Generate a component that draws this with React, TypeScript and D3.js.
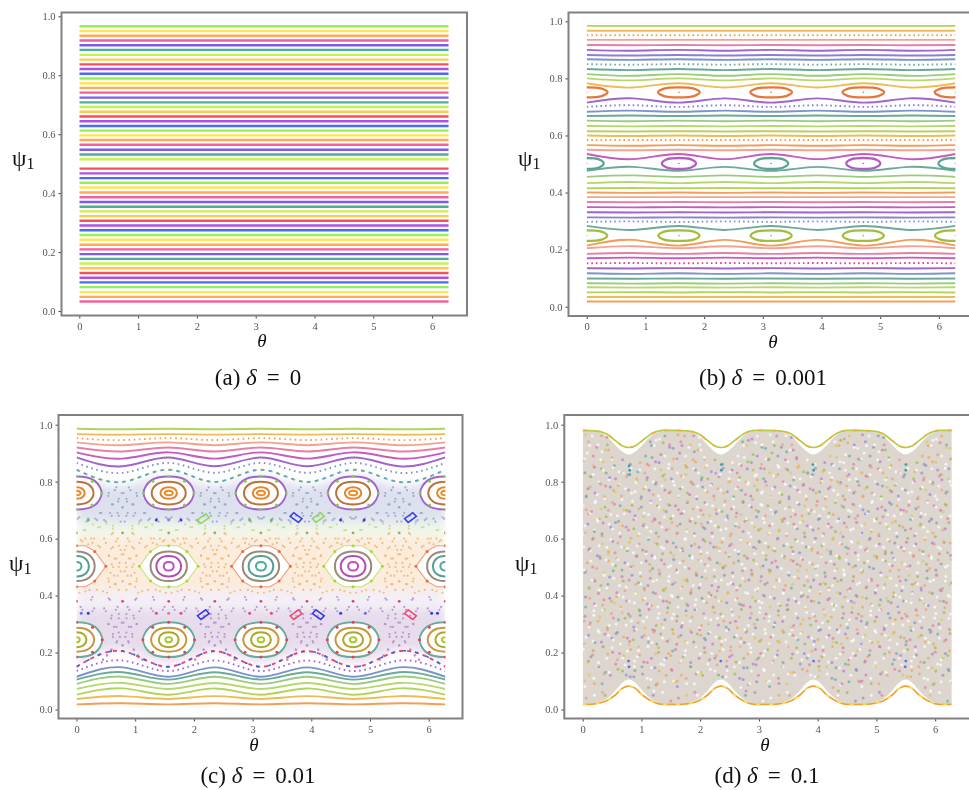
import React, { useEffect, useRef } from "react";
import * as d3 from "d3";

// colours
const yg = "#b3d45c", og = "#eebc55", org = "#f29d58", sal = "#f3a293", pink = "#e67fa6", mag = "#c45cbc",
  pur = "#a064cc", vio = "#8c7ed2", blu = "#7d94c8", tea = "#6aa99b", grn = "#9ccb7c", lim = "#b8d86c", red = "#e2487a";

const xTicks = [0, 1, 2, 3, 4, 5, 6];
const yTicks = [0, 0.2, 0.4, 0.6, 0.8, 1];
const thetaEnds = [0, 6.283];
const waveNodes = [0, 0.785, 1.571, 2.356, 3.142, 3.927, 4.712, 5.498, 6.283];
const cellStarts = [0, 1.571, 3.142, 4.712];
const islandCentres = [0, 1.571, 3.142, 4.712, 6.283];

// panel a: flat lines, null is the missing line at 0.5
const panelAPsi = [0.966, 0.95, 0.934, 0.918, 0.902, 0.886, 0.869, 0.853, 0.837, 0.821, 0.805, 0.789, 0.773, 0.757, 0.741,
  0.724, 0.708, 0.692, 0.676, 0.66, 0.644, 0.628, 0.612, 0.596, 0.58, 0.564, 0.547, 0.531, 0.515, null, 0.483, 0.467, 0.451,
  0.435, 0.419, 0.402, 0.386, 0.37, 0.354, 0.338, 0.322, 0.306, 0.29, 0.274, 0.258, 0.242, 0.225, 0.209, 0.193, 0.177, 0.161,
  0.145, 0.129, 0.113, 0.097, 0.081, 0.064, 0.048, 0.032];
const panelAColors = ["#96f05a", "#ffe650", "#ffa95a", "#f0609a", "#7c5cf0", "#4fae96", "#c8f050", "#ffc84e", "#f5505a", "#b050e0", "#4a6cf5"];

// panel b: psi at theta = k*pi/2, psi at theta = pi/4 + k*pi/2, colour, dotted
const panelBNode = [0.984, 0.967, 0.951, 0.935, 0.917, 0.9, 0.882, 0.867, 0.85, 0.833, 0.815, 0.8, 0.783, 0.715, 0.7, 0.683, 0.668, 0.652, 0.633, 0.615, 0.6, 0.584, 0.566, 0.55, 0.535, 0.476, 0.455, 0.433, 0.415, 0.4, 0.384, 0.367, 0.349, 0.331, 0.313, 0.297, 0.283, 0.214, 0.205, 0.185, 0.17, 0.152, 0.135, 0.117, 0.099, 0.082, 0.068, 0.05, 0.034, 0.018];
const panelBMid = [0.984, 0.967, 0.951, 0.935, 0.916, 0.897, 0.88, 0.865, 0.848, 0.829, 0.809, 0.793, 0.768, 0.73, 0.706, 0.687, 0.67, 0.65, 0.632, 0.614, 0.598, 0.584, 0.564, 0.548, 0.517, 0.49, 0.46, 0.437, 0.416, 0.399, 0.384, 0.366, 0.348, 0.33, 0.312, 0.299, 0.269, 0.234, 0.212, 0.188, 0.172, 0.153, 0.134, 0.115, 0.098, 0.081, 0.067, 0.051, 0.034, 0.018];
const panelBColor = [yg, og, org, sal, pink, pur, vio, blu, tea, tea, grn, lim, og, pur, vio, blu, tea, grn, lim, yg, og, org, org, sal, mag, tea, grn, lim, yg, org, sal, pink, mag, pur, vio, blu, tea, org, sal, pink, mag, red, pur, blu, tea, grn, lim, yg, og, org];
const panelBDotted = [2, 8, 14, 21, 35, 41];
const panelBIslandPsi = [0.751, 0.502, 0.249];
const panelBIslandHalfTheta = [0.355, 0.29, 0.35];
const panelBIslandHalfPsi = [0.0175, 0.019, 0.0187];

// panel c tori, same layout as panel b
const panelCNode = [0.986, 0.967, 0.953, 0.938, 0.92, 0.903, 0.885, 0.866, 0.842, 0.15, 0.135, 0.115, 0.105, 0.09, 0.072, 0.052, 0.037, 0.018];
const panelCMid = [0.984, 0.965, 0.946, 0.928, 0.906, 0.881, 0.854, 0.831, 0.799, 0.205, 0.172, 0.148, 0.131, 0.115, 0.093, 0.074, 0.047, 0.022];
const panelCColor = [yg, og, org, sal, pink, mag, pur, blu, grn, red, pur, blu, tea, grn, lim, yg, og, org];
const panelCDotted = [2, 7, 10];
const panelCDashed = [8, 9];

const ringShapeTheta = [1, 0.72, 0, -0.72, -1, -0.72, 0, 0.72];
const ringShapePsi = [0, 0.74, 1, 0.74, 0, -0.74, -1, -0.74];
const hexShapeTheta = [1, 0.62, 0.3, -0.3, -0.62, -1, -0.62, -0.3, 0.3, 0.62];
const hexShapePsi = [0, 0.74, 1, 1, 0.74, 0, -0.74, -1, -1, -0.74];

// psi, half widths, colour for islands at even and odd centres
const panelCRings: [number, number, number, string, string][] = [
  [0.76, 0.43, 0.058, pur, pur], [0.76, 0.29, 0.04, "#b8743c", "#b8743c"], [0.76, 0.14, 0.02, "#e8822e", "#e8822e"], [0.76, 0.07, 0.008, "#f08a1e", "#f08a1e"],
  [0.503, 0.31, 0.052, "#9a8a78", "#9a8a78"], [0.503, 0.21, 0.036, "#4f9f93", "#b04cb4"], [0.503, 0.085, 0.015, "#4fa99b", "#c050c0"],
  [0.245, 0.44, 0.061, tea, tea], [0.245, 0.3, 0.042, "#c8963c", "#c8963c"], [0.245, 0.17, 0.026, "#b0a428", "#b0a428"], [0.245, 0.056, 0.009, "#a8c832", "#a8c832"],
];
const panelCHexPsi = 0.503;
const panelCHexHalf = [0.5, 0.072];
const panelCHexColor = ["#f09a7c", "#c8e07c"];
const chainTheta = [1, 0.62, 0, -0.62, -1, -0.62, 0, 0.62];
const chainPsi = [0, 0.72, 1, 0.72, 0, -0.72, -1, -0.72];
const chainRows: [number, number, number, string][] = [
  [0.76, 0.43, 0.058, "#8fc45a"], [0.503, 0.5, 0.072, "#f0683c"], [0.245, 0.44, 0.061, "#e2405c"],
];
const tinyDotPsi = [0.62, 0.38];
const tinyDotTheta = [0, 0.785, 1.571, 2.356, 3.142, 3.927, 4.712, 5.498, 6.283];
const tinyDotColor = ["#a8a850", "#d84868"];

// theta, psi, tilt, colour of the small secondary islands
const secondaryIslands: [number, number, number, string][] = [
  [2.16, 0.67, -1, "#8fd860"], [3.74, 0.674, 1, "#4040e8"], [4.12, 0.674, -1, "#8fd860"], [5.69, 0.674, -1, "#4040e8"],
  [2.16, 0.333, -1, "#3838e8"], [3.74, 0.333, -1, "#f04878"], [4.12, 0.333, 1, "#3838e8"], [5.69, 0.333, 1, "#f04878"],
];
const smallBlobs: [number, number, string][] = [
  [0.2, 0.338, "#3838e8"], [0.08, 0.338, "#6a6af0"], [1.36, 0.338, "#f04878"], [1.78, 0.338, "#f04878"], [1.57, 0.338, "#e878a0"],
  [1.36, 0.665, "#3838e8"], [1.78, 0.665, "#3838e8"], [1.57, 0.665, "#8888e8"], [0.2, 0.665, "#66c050"], [4.5, 0.665, "#3838e8"], [4.9, 0.665, "#3838e8"],
  [4.5, 0.338, "#3838e8"], [4.92, 0.338, "#6a6af0"], [2.95, 0.338, "#f04878"], [3.32, 0.338, "#f04878"],
  [2.95, 0.665, "#66c050"], [3.32, 0.665, "#66c050"], [6.05, 0.338, "#3838e8"], [6.15, 0.338, "#3838e8"],
];

// chaotic bands of panel c: a pale tint, then a sample of hand placed points for one pi/2 cell
const bandNodes: [string, number[], number[]][] = [
  ["#dde1ee", [0.82, 0.785], [0.66, 0.655]],
  ["#f1f6e8", [0.66, 0.655], [0.6, 0.6]],
  ["#fbecdc", [0.6, 0.6], [0.42, 0.42]],
  ["#f3eff6", [0.42, 0.42], [0.35, 0.35]],
  ["#e6dceb", [0.35, 0.35], [0.165, 0.21]],
];
const blueSpeckle = [[0.55, 0.76], [0.62, 0.72], [0.68, 0.78], [0.72, 0.74], [0.78, 0.71], [0.8, 0.76], [0.86, 0.73], [0.92, 0.77], [0.97, 0.72], [1.03, 0.75], [0.6, 0.68], [0.7, 0.69], [0.85, 0.68], [1, 0.69], [0.2, 0.67], [0.35, 0.665], [0.5, 0.66], [1.1, 0.665], [1.25, 0.67], [1.4, 0.66], [0.05, 0.675], [0.75, 0.66], [1.55, 0.67], [0.4, 0.69], [1.15, 0.69]];
const greenSpeckle = [[0.15, 0.63], [0.4, 0.64], [0.62, 0.645], [0.95, 0.635], [1.2, 0.64], [1.45, 0.63], [0.28, 0.65], [1.06, 0.652]];
const orangeSpeckle = [[0.1, 0.59], [0.3, 0.6], [0.5, 0.585], [0.7, 0.6], [0.9, 0.59], [1.1, 0.6], [1.3, 0.585], [1.5, 0.595], [0.2, 0.58], [0.62, 0.57], [0.75, 0.56], [0.85, 0.575], [0.98, 0.565], [0.55, 0.54], [0.68, 0.53], [0.8, 0.545], [0.92, 0.53], [1.02, 0.54], [0.6, 0.51], [0.72, 0.5], [0.84, 0.515], [0.95, 0.5], [0.58, 0.48], [0.7, 0.47], [0.82, 0.485], [0.93, 0.47], [1.03, 0.46], [0.55, 0.45], [0.65, 0.44], [0.78, 0.45], [0.9, 0.44], [1, 0.43], [0.15, 0.415], [0.35, 0.42], [0.52, 0.41], [0.72, 0.42], [1.12, 0.415], [1.35, 0.42], [1.52, 0.41], [0.25, 0.6], [0.4, 0.57], [1.2, 0.575], [1.42, 0.6], [0.6, 0.615], [0.95, 0.62]];
const purpleSpeckle = [[0.1, 0.35], [0.3, 0.355], [0.5, 0.345], [0.7, 0.36], [0.9, 0.35], [1.1, 0.355], [1.3, 0.345], [1.5, 0.36], [0.6, 0.33], [0.72, 0.32], [0.85, 0.335], [0.98, 0.32], [0.55, 0.3], [0.68, 0.29], [0.8, 0.305], [0.93, 0.29], [1.03, 0.3], [0.62, 0.265], [0.74, 0.255], [0.85, 0.27], [0.95, 0.255], [0.68, 0.235], [0.78, 0.225], [0.88, 0.24], [0.6, 0.21], [0.98, 0.21], [0.52, 0.19], [1.05, 0.19], [0.45, 0.175], [1.12, 0.175], [0.25, 0.385], [0.55, 0.39], [1, 0.385], [1.3, 0.395]];

// panel d: boundary of the sea in one cell, then a sample of its points
const seaCellTheta = [0, 0.2, 0.4, 0.55, 0.68, 0.785, 0.89, 1.02, 1.17, 1.37];
const seaTopPsi = [0.978, 0.975, 0.962, 0.93, 0.905, 0.895, 0.905, 0.93, 0.962, 0.977];
const seaBottomPsi = [0.02, 0.023, 0.036, 0.065, 0.095, 0.105, 0.095, 0.065, 0.036, 0.021];
const edgeTopPsi = [0.98, 0.978, 0.968, 0.945, 0.925, 0.92, 0.925, 0.945, 0.968, 0.98];
const edgeBottomPsi = [0.018, 0.02, 0.03, 0.05, 0.075, 0.082, 0.075, 0.05, 0.03, 0.018];
const seaClumps: [number, number, string][] = [[0.8, 0.84, "#3fa0a8"], [0.79, 0.855, "#3fa0a8"], [0.8, 0.825, "#50b0a0"], [2.36, 0.84, "#3fa0a8"], [2.36, 0.86, "#3fa0a8"], [3.93, 0.84, "#3fa0a8"], [3.92, 0.86, "#3fa0a8"], [5.5, 0.84, "#3fa0a8"], [5.5, 0.86, "#3fa0a8"], [0.78, 0.17, "#6070e0"], [0.79, 0.15, "#6070e0"], [2.35, 0.17, "#6070e0"], [3.93, 0.17, "#6070e0"], [5.5, 0.17, "#6070e0"], [5.49, 0.15, "#6070e0"]];
const seaColors = ["#e8a080", "#ffffff", "#a0b850", "#9088d8", "#ffffff", "#e080a0", "#d8c860", "#ffffff", "#70a8a0", "#c078c8", "#ffffff", "#f0a850"];
const seaCopyTheta = [0, 0.41, 0.83, 1.19];
const seaCopyPsi = [0, 0.031, 0.015, 0.047];
const seaSample = [
  [0.06, 0.04], [0.2, 0.05], [0.38, 0.05], [1.2, 0.05], [1.36, 0.06], [1.5, 0.03],
  [0.04, 0.1], [0.19, 0.11], [0.33, 0.09], [0.47, 0.12], [1.1, 0.11], [1.27, 0.09], [1.42, 0.12], [1.55, 0.1],
  [0.1, 0.17], [0.27, 0.15], [0.41, 0.18], [0.56, 0.16], [0.7, 0.19], [0.88, 0.17], [1.01, 0.15], [1.17, 0.18], [1.33, 0.16], [1.5, 0.19],
  [0.03, 0.23], [0.18, 0.24], [0.35, 0.22], [0.5, 0.25], [0.64, 0.23], [0.8, 0.24], [0.95, 0.22], [1.12, 0.25], [1.26, 0.23], [1.44, 0.24],
  [0.11, 0.29], [0.26, 0.31], [0.42, 0.28], [0.57, 0.3], [0.72, 0.32], [0.87, 0.29], [1.03, 0.31], [1.19, 0.28], [1.35, 0.3], [1.52, 0.32],
  [0.05, 0.36], [0.2, 0.37], [0.34, 0.35], [0.49, 0.38], [0.65, 0.36], [0.79, 0.38], [0.96, 0.35], [1.1, 0.37], [1.28, 0.36], [1.43, 0.38],
  [0.12, 0.43], [0.28, 0.42], [0.43, 0.44], [0.58, 0.41], [0.74, 0.43], [0.9, 0.44], [1.05, 0.42], [1.2, 0.45], [1.37, 0.42], [1.53, 0.44],
  [0.03, 0.49], [0.17, 0.5], [0.36, 0.48], [0.51, 0.51], [0.67, 0.49], [0.82, 0.5], [0.98, 0.48], [1.14, 0.51], [1.3, 0.49], [1.46, 0.5],
  [0.1, 0.56], [0.25, 0.54], [0.41, 0.57], [0.55, 0.55], [0.71, 0.57], [0.86, 0.55], [1.02, 0.56], [1.18, 0.54], [1.34, 0.57], [1.5, 0.55],
  [0.04, 0.62], [0.2, 0.63], [0.33, 0.61], [0.48, 0.64], [0.63, 0.62], [0.78, 0.63], [0.94, 0.61], [1.09, 0.64], [1.25, 0.62], [1.42, 0.63],
  [0.13, 0.69], [0.29, 0.67], [0.44, 0.7], [0.59, 0.68], [0.75, 0.7], [0.89, 0.68], [1.05, 0.69], [1.22, 0.67], [1.38, 0.7], [1.54, 0.68],
  [0.06, 0.75], [0.21, 0.76], [0.37, 0.74], [0.52, 0.77], [0.66, 0.75], [0.83, 0.76], [0.99, 0.74], [1.13, 0.77], [1.29, 0.75], [1.47, 0.76],
  [0.11, 0.82], [0.27, 0.8], [0.4, 0.83], [0.56, 0.81], [0.69, 0.83], [0.92, 0.81], [1.06, 0.83], [1.2, 0.8], [1.36, 0.82], [1.51, 0.81],
  [0.03, 0.88], [0.18, 0.89], [0.35, 0.87], [0.5, 0.88], [1.07, 0.89], [1.24, 0.87], [1.4, 0.89], [1.55, 0.88],
  [0.1, 0.94], [0.26, 0.93], [0.42, 0.93], [1.15, 0.94], [1.31, 0.95], [1.48, 0.93], [0.05, 0.965], [0.16, 0.96], [1.4, 0.96],
];

const panels = {
  a: { left: 61.5, top: 12.5, right: 467, bottom: 315.5, x0: 79.3, x6: 432.1, y0: 311, y1: 16.3, thetaX: 262, thetaY: 347, psiX: 12, psiY: 166, capX: 258, capY: 385, cap: "(a)", val: "0" },
  b: { left: 568.5, top: 12.5, right: 975, bottom: 316, x0: 586.7, x6: 938.9, y0: 306.7, y1: 21.3, thetaX: 773, thetaY: 348, psiX: 518, psiY: 166, capX: 763, capY: 385, cap: "(b)", val: "0.001" },
  c: { left: 58.5, top: 415, right: 462.5, bottom: 718.5, x0: 76.5, x6: 428.7, y0: 709.5, y1: 424.7, thetaX: 254, thetaY: 751, psiX: 9, psiY: 571, capX: 258, capY: 783, cap: "(c)", val: "0.01" },
  d: { left: 564.3, top: 415, right: 975, bottom: 718.5, x0: 582.7, x6: 935.2, y0: 709.5, y1: 424.7, thetaX: 765, thetaY: 751, psiX: 515, psiY: 571, capX: 767, capY: 783, cap: "(d)", val: "0.1" },
};

const serif = "'Liberation Serif', serif";

function drawPanel(svg: any, p: any, id: string) {
  const x = d3.scaleLinear().domain([0, 6]).range([p.x0, p.x6]);
  const y = d3.scaleLinear().domain([0, 1]).range([p.y0, p.y1]);
  const g = svg.append("g");

  g.append("clipPath").attr("id", `clip-${id}`).append("rect")
    .attr("x", x(0)).attr("width", x(6.283) - x(0)).attr("y", p.top).attr("height", p.bottom - p.top);
  const plot = g.append("g").attr("clip-path", `url(#clip-${id})`);

  const axisL = d3.axisLeft(y).tickValues(yTicks).tickFormat(d3.format(".1f") as any).tickSize(3).tickPadding(3);
  const axisB = d3.axisBottom(x).tickValues(xTicks).tickFormat(d3.format("d") as any).tickSize(3).tickPadding(4);
  for (const [axis, tr] of [[axisL, `translate(${p.left},0)`], [axisB, `translate(0,${p.bottom})`]] as any) {
    const a = g.append("g").attr("transform", tr).call(axis);
    a.select(".domain").remove();
    a.selectAll("line").attr("stroke", "#444").attr("stroke-width", 1);
    a.selectAll("text").attr("font-family", serif).attr("font-size", 10.5).attr("fill", "#555");
  }
  g.append("rect").attr("x", p.left).attr("y", p.top).attr("width", p.right - p.left).attr("height", p.bottom - p.top)
    .attr("fill", "none").attr("stroke", "#808080").attr("stroke-width", 2);

  g.append("text").attr("x", p.thetaX).attr("y", p.thetaY).attr("text-anchor", "middle").attr("font-family", serif)
    .attr("font-style", "italic").attr("font-size", 19).attr("fill", "#111").text("θ");
  const psi = g.append("text").attr("x", p.psiX).attr("y", p.psiY).attr("font-family", serif).attr("font-size", 23).attr("fill", "#111");
  psi.append("tspan").text("ψ");
  psi.append("tspan").attr("dy", 3).attr("font-size", 16).text("1");

  const cap = g.append("text").attr("x", p.capX).attr("y", p.capY).attr("text-anchor", "middle").attr("font-family", serif).attr("font-size", 23).attr("fill", "#111");
  cap.append("tspan").text(p.cap + " ");
  cap.append("tspan").attr("font-style", "italic").text("δ");
  cap.append("tspan").attr("dx", 10).text("=");
  cap.append("tspan").attr("dx", 10).text(p.val);

  const line = d3.line<number[]>().x((d) => x(d[0])).y((d) => y(d[1]));
  const wave = d3.line<number[]>().x((d) => x(d[0])).y((d) => y(d[1])).curve(d3.curveNatural);
  const loop = d3.line<number[]>().x((d) => x(d[0])).y((d) => y(d[1])).curve(d3.curveCatmullRomClosed);

  const wavePath = (node: number, mid: number) => waveNodes.map((t, i) => [t, i % 2 ? mid : node]);
  const ringPath = (cx: number, cy: number, ht: number, hp: number, sx: number[], sy: number[]) =>
    sx.map((s, i) => [cx + s * ht, cy + sy[i] * hp]);
  const drawWave = (node: number, mid: number, color: string, dash: string | null, width = 1.9) => {
    plot.append("path").attr("d", wave(wavePath(node, mid))).attr("fill", "none").attr("stroke", color)
      .attr("stroke-width", width).attr("stroke-dasharray", dash);
  };
  // the cell is drawn as read and mirrored about its middle, as the figure is
  const drawCell = (list: number[][], color: string, r: number, opacity: number) => {
    cellStarts.forEach((start) => {
      list.forEach((d) => {
        [start + d[0], start + 1.571 - d[0]].forEach((t) => {
          plot.append("circle").attr("cx", x(t)).attr("cy", y(d[1])).attr("r", r).attr("fill", color).attr("opacity", opacity);
        });
      });
    });
  };

  if (id === "a") {
    panelAPsi.forEach((v, i) => {
      if (v === null) return;
      plot.append("path").attr("d", line(thetaEnds.map((t) => [t, v]))).attr("stroke", panelAColors[i % panelAColors.length])
        .attr("stroke-width", 2.4).attr("fill", "none");
    });
  }

  if (id === "b") {
    panelBNode.forEach((v, i) => drawWave(v, panelBMid[i], panelBColor[i], panelBDotted.includes(i) ? "1.6 3" : null));
    panelBIslandPsi.forEach((c, r) => {
      islandCentres.forEach((t, k) => {
        const color = r === 0 ? "#e8763c" : r === 2 ? "#a4bc3c" : k % 2 ? "#b45cc4" : "#5aa596";
        plot.append("path").attr("d", loop(ringPath(t, c, panelBIslandHalfTheta[r], panelBIslandHalfPsi[r], ringShapeTheta, ringShapePsi)))
          .attr("fill", "none").attr("stroke", color).attr("stroke-width", 2.3);
        plot.append("circle").attr("cx", x(t)).attr("cy", y(c)).attr("r", 0.8).attr("fill", color);
      });
    });
  }

  if (id === "c") {
    const bands = plot.append("g").attr("filter", "url(#band-blur)");
    bandNodes.forEach(([color, top, bottom]) => {
      const area = d3.area<number>().x((t) => x(t)).y0((_, i) => y(i % 2 ? bottom[1] : bottom[0])).y1((_, i) => y(i % 2 ? top[1] : top[0])).curve(d3.curveNatural);
      bands.append("path").attr("d", area(waveNodes)).attr("fill", color);
    });
    // white room inside the islands
    islandCentres.forEach((t) => {
      plot.append("path").attr("d", loop(ringPath(t, 0.76, 0.45, 0.062, ringShapeTheta, ringShapePsi))).attr("fill", "#fff");
      plot.append("path").attr("d", loop(ringPath(t, 0.245, 0.46, 0.065, ringShapeTheta, ringShapePsi))).attr("fill", "#fff");
      plot.append("path").attr("d", line(ringPath(t, panelCHexPsi, panelCHexHalf[0], panelCHexHalf[1], hexShapeTheta, hexShapePsi)) + "Z").attr("fill", "#fff");
    });
    drawCell(blueSpeckle, "#8f9ccc", 1.1, 0.8);
    drawCell(greenSpeckle, "#b8dc88", 1.1, 0.8);
    drawCell(orangeSpeckle, "#f0b070", 1.1, 0.8);
    drawCell(purpleSpeckle, "#b088c8", 1.1, 0.8);
    panelCNode.forEach((v, i) => drawWave(v, panelCMid[i], panelCColor[i], panelCDotted.includes(i) ? "1.6 3.6" : panelCDashed.includes(i) ? "4 4" : null));
    drawWave(0.15, 0.205, "#4060e0", "3 9", 1.6);
    drawWave(0.842, 0.799, "#5aa0c8", "3 5", 1.6);
    islandCentres.forEach((t, k) => {
      plot.append("path").attr("d", line(ringPath(t, panelCHexPsi, panelCHexHalf[0], panelCHexHalf[1], hexShapeTheta, hexShapePsi)) + "Z")
        .attr("fill", "none").attr("stroke", panelCHexColor[k % 2]).attr("stroke-width", 1.1);
      panelCRings.forEach(([c, ht, hp, even, odd]) => {
        plot.append("path").attr("d", loop(ringPath(t, c, ht, hp, ringShapeTheta, ringShapePsi)))
          .attr("fill", "none").attr("stroke", k % 2 ? odd : even).attr("stroke-width", 2);
      });
      chainRows.forEach(([c, ht, hp, color]) => {
        chainTheta.forEach((s, j) => {
          plot.append("circle").attr("cx", x(t + s * ht)).attr("cy", y(c + chainPsi[j] * hp)).attr("r", 1.5)
            .attr("fill", c === 0.503 && k % 2 ? "#a8d838" : color);
        });
      });
    });
    tinyDotPsi.forEach((v, r) => tinyDotTheta.forEach((t) => {
      plot.append("circle").attr("cx", x(t)).attr("cy", y(v)).attr("r", 1.4).attr("fill", tinyDotColor[r]);
    }));
    secondaryIslands.forEach(([t, v, tilt, color]) => {
      const corners = [[-0.1, 0.004 * tilt], [-0.04, 0.017 * tilt], [0.1, -0.004 * tilt], [0.04, -0.017 * tilt]];
      plot.append("path").attr("d", line(corners.map((c) => [t + c[0], v + c[1]])) + "Z").attr("fill", "none").attr("stroke", color).attr("stroke-width", 1.6);
    });
    smallBlobs.forEach(([t, v, color]) => {
      plot.append("circle").attr("cx", x(t)).attr("cy", y(v)).attr("r", 1.5).attr("fill", color);
    });
  }

  if (id === "d") {
    const fullTheta = [...cellStarts.flatMap((s) => seaCellTheta.map((t) => s + t)), 6.283];
    const repeat = (list: number[]) => [...cellStarts.flatMap(() => list), list[0]];
    const top = repeat(seaTopPsi), bottom = repeat(seaBottomPsi);
    const area = d3.area<number>().x((t) => x(t)).y0((_, i) => y(bottom[i])).y1((_, i) => y(top[i])).curve(d3.curveMonotoneX);
    plot.append("path").attr("d", area(fullTheta)).attr("fill", "#dcd6cf");
    // flat tint plus a hand placed sample shifted around the cell: a texture, not the orbit points of the figure
    cellStarts.forEach((s, k) => {
      seaSample.forEach((d, i) => {
        seaCopyTheta.forEach((shift, m) => {
          const t = (d[0] + shift) % 1.571;
          const v = d[1] + seaCopyPsi[m];
          const inWedge = Math.abs(t - 0.785) < 0.33 && (v > 0.89 || v < 0.11);
          if (v > 0.965 || v < 0.03 || inWedge) return;
          plot.append("circle").attr("cx", x(s + t)).attr("cy", y(v)).attr("r", 1.5)
            .attr("fill", seaColors[(i + k * 5 + m * 7) % seaColors.length]).attr("opacity", 0.7);
        });
      });
    });
    const edge = d3.line<number>().x((t) => x(t)).curve(d3.curveMonotoneX);
    const edgeTop = repeat(edgeTopPsi), edgeBottom = repeat(edgeBottomPsi);
    plot.append("path").attr("d", edge.y((_, i) => y(edgeTop[i]))(fullTheta)).attr("fill", "none").attr("stroke", "#b4cc40").attr("stroke-width", 1.7);
    plot.append("path").attr("d", edge.y((_, i) => y(edgeTop[i]))(fullTheta)).attr("fill", "none").attr("stroke", "#f0b040").attr("stroke-width", 1.7).attr("stroke-dasharray", "4 9");
    plot.append("path").attr("d", edge.y((_, i) => y(edgeBottom[i]))(fullTheta)).attr("fill", "none").attr("stroke", "#f0a030").attr("stroke-width", 1.7);
    plot.append("path").attr("d", edge.y((_, i) => y(edgeBottom[i]))(fullTheta)).attr("fill", "none").attr("stroke", "#f4e060").attr("stroke-width", 1.7).attr("stroke-dasharray", "4 9");
    seaClumps.forEach(([t, v, color]) => {
      plot.append("circle").attr("cx", x(t)).attr("cy", y(v)).attr("r", 1.4).attr("fill", color);
    });
  }
}

export default function App() {
  const ref = useRef<SVGSVGElement>(null);
  useEffect(() => {
    const svg = d3.select(ref.current);
    svg.selectAll("*").remove();
    svg.append("filter").attr("id", "band-blur").attr("x", "-5%").attr("y", "-20%").attr("width", "110%").attr("height", "140%")
      .append("feGaussianBlur").attr("stdDeviation", 5);
    Object.entries(panels).forEach(([id, p]) => drawPanel(svg, p, id));
  }, []);
  return <svg ref={ref} width={969} height={790} style={{ position: "absolute", left: 0, top: 0, background: "#fff", filter: "blur(0.4px)" }} />;
}
